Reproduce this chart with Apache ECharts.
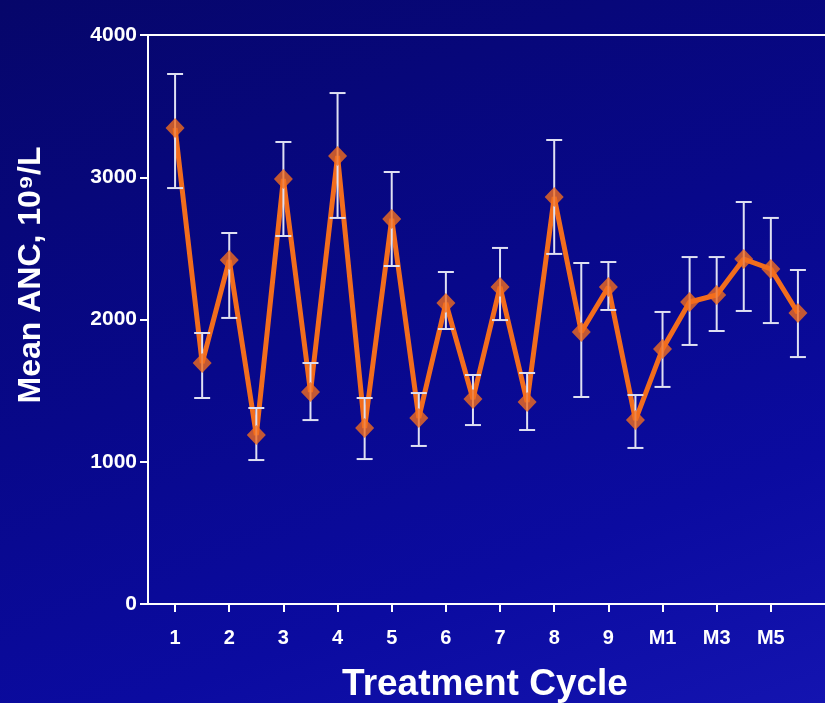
<!DOCTYPE html>
<html><head><meta charset="utf-8">
<script src="https://cdn.jsdelivr.net/npm/echarts@6/dist/echarts.min.js"></script>
<style>
html,body{margin:0;padding:0;}
body{width:825px;height:703px;overflow:hidden;background:linear-gradient(160deg,#06066a 0%,#08088a 45%,#0b0ba0 75%,#1414b0 100%);}
#c{width:825px;height:703px;}
</style></head><body><div id="c"></div>
<script>
// Categories (leading/trailing blanks pad the axis like the original)
const categories = ['', '1','1.5','2','2.5','3','3.5','4','4.5','5','5.5','6','6.5','7','7.5','8','8.5','9','9.5','M1','M2','M3','M4','M5','M6',' '];
const shownLabels = ['1','2','3','4','5','6','7','8','9','M1','M3','M5'];
const meanANC = [3346,1694,2418,1188,2988,1490,3149,1237,2707,1308,2116,1441,2229,1420,2861,1912,2229,1293,1793,2123,2172,2425,2355,2046];
const errLow  = [2924,1448,2011,1012,2587,1293,2714,1019,2376,1111,1933,1258,1996,1223,2461,1455,2067,1097,1526,1821,1919,2060,1975,1736];
const errHigh = [3726,1905,2608,1378,3248,1694,3592,1448,3037,1483,2334,1610,2503,1624,3262,2397,2404,1469,2053,2439,2439,2826,2714,2348];
const yTicks = [0,1000,2000,3000,4000];

const font = '"Liberation Sans", Arial, sans-serif';
const lineData = meanANC.map((v,i)=>[i+1, v]);
const errData = meanANC.map((v,i)=>[i+1, errLow[i], errHigh[i]]);

const chart = echarts.init(document.getElementById('c'), null, {renderer:'canvas'});
chart.setOption({
  backgroundColor: 'transparent',
  animation: false,
  grid: {left:148, top:35, right:-14, bottom:99, containLabel:false},
  xAxis: [{
    type:'category', data:categories, boundaryGap:false,
    axisLine:{show:true, lineStyle:{color:'#ffffff', width:2}},
    axisTick:{show:true, length:8, lineStyle:{color:'#ffffff', width:2},
      interval:(i,v)=>shownLabels.indexOf(v)>=0},
    axisLabel:{color:'#ffffff', fontFamily:font, fontWeight:'bold', fontSize:20, margin:24,
      interval:(i,v)=>shownLabels.indexOf(v)>=0},
    splitLine:{show:false}
  },{
    type:'category', data:categories, boundaryGap:false, position:'top',
    axisLine:{show:true, onZero:false, lineStyle:{color:'#ffffff', width:2}},
    axisTick:{show:false}, axisLabel:{show:false}, splitLine:{show:false}
  }],
  yAxis: {
    type:'value', min:yTicks[0], max:yTicks[yTicks.length-1], interval:1000,
    axisLine:{show:true, lineStyle:{color:'#ffffff', width:2}},
    axisTick:{show:true, length:8, lineStyle:{color:'#ffffff', width:2}},
    axisLabel:{color:'#ffffff', fontFamily:font, fontWeight:'bold', fontSize:21, margin:11,
      formatter:v=>String(v)},
    splitLine:{show:false}
  },
  graphic: [
    {type:'text', x:485, y:685, style:{text:'Treatment Cycle', fill:'#ffffff', font:'bold 37px '+font, textAlign:'center', textVerticalAlign:'middle'}},
    {type:'text', x:31, y:275, rotation:Math.PI/2, style:{text:'Mean ANC, 10⁹/L', fill:'#ffffff', font:'bold 32px '+font, textAlign:'center', textVerticalAlign:'middle'}}
  ],
  series: [
    {type:'line', data:lineData, showSymbol:false, z:2,
      lineStyle:{color:'#f26d1d', width:5}},
    {type:'custom', data:errData, z:3,
      renderItem:(params, api)=>{
        const x = api.value(0);
        const lo = api.coord([x, api.value(1)]);
        const hi = api.coord([x, api.value(2)]);
        const w = 8;
        const st = {stroke:'#dfe0f2', lineWidth:2};
        return {type:'group', children:[
          {type:'line', shape:{x1:lo[0], y1:lo[1], x2:hi[0], y2:hi[1]}, style:st},
          {type:'line', shape:{x1:lo[0]-w, y1:lo[1], x2:lo[0]+w, y2:lo[1]}, style:st},
          {type:'line', shape:{x1:hi[0]-w, y1:hi[1], x2:hi[0]+w, y2:hi[1]}, style:st}
        ]};
      }},
    {type:'scatter', data:lineData, z:4, symbol:'diamond', symbolSize:[19,20],
      itemStyle:{color:'#f26d1d'}}
  ]
});
</script></body></html>
